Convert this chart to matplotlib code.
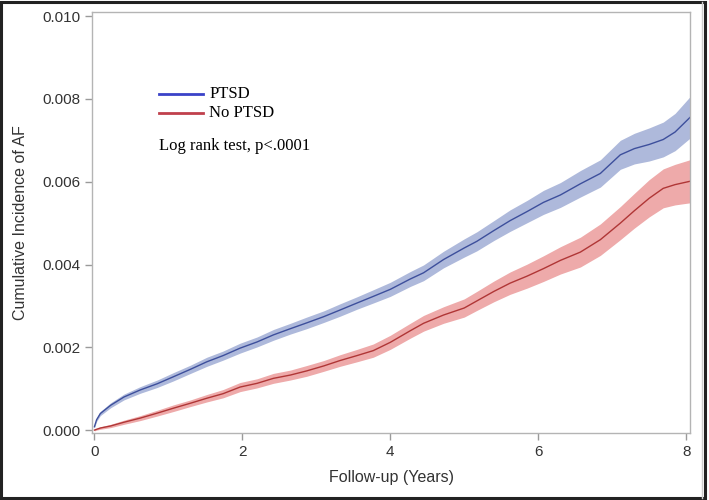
import matplotlib
matplotlib.use('Agg')
import matplotlib.pyplot as plt
import numpy as np
from matplotlib.patches import Rectangle

# values (years, cumulative incidence, half width of band)
years = [0, 0.03, 0.08, 0.22, 0.4, 0.62, 0.85, 1.07, 1.3, 1.52, 1.74, 1.97,
         2.2, 2.42, 2.65, 2.87, 3.1, 3.32, 3.55, 3.77, 4.0, 4.27, 4.45, 4.72,
         5.0, 5.17, 5.4, 5.62, 5.85, 6.07, 6.3, 6.57, 6.84, 7.11, 7.3, 7.5,
         7.69, 7.85, 8.05]
ptsd = [0.00008, 0.00025, 0.0004, 0.0006, 0.0008, 0.00097, 0.00112, 0.00129,
        0.00147, 0.00165, 0.0018, 0.00198, 0.00213, 0.0023, 0.00245, 0.00259,
        0.00274, 0.0029, 0.00307, 0.00323, 0.0034, 0.00365, 0.0038, 0.00412,
        0.0044, 0.00456, 0.00482, 0.00506, 0.00528, 0.0055, 0.00568, 0.00595,
        0.0062, 0.00665, 0.0068, 0.0069, 0.00702, 0.0072, 0.00755]
ptsd_ci = [0.00003, 0.00004, 0.00005, 0.00006, 0.00007, 0.00008, 0.00009,
           0.0001, 0.0001, 0.00011, 0.00011, 0.00012, 0.00012, 0.00013,
           0.00013, 0.00014, 0.00014, 0.00015, 0.00015, 0.00016, 0.00017,
           0.00018, 0.00019, 0.0002, 0.00022, 0.00023, 0.00024, 0.00026,
           0.00027, 0.00029, 0.0003, 0.00032, 0.00033, 0.00035, 0.00037,
           0.0004, 0.00042, 0.00045, 0.0005]
no_ptsd = [0.0, 0.00002, 0.00005, 0.0001, 0.00019, 0.00029, 0.00041, 0.00053,
           0.00065, 0.00077, 0.00088, 0.00104, 0.00113, 0.00125, 0.00133,
           0.00143, 0.00155, 0.00168, 0.0018, 0.00192, 0.00212, 0.0024,
           0.00258, 0.00278, 0.00295, 0.00312, 0.00335, 0.00355, 0.00372,
           0.0039, 0.0041, 0.0043, 0.0046, 0.0050, 0.0053, 0.0056, 0.00584,
           0.00593, 0.00601]
no_ptsd_ci = [0.00002, 0.00002, 0.00003, 0.00004, 0.00005, 0.00006, 0.00007,
              0.00008, 0.00008, 0.00009, 0.0001, 0.00011, 0.00011, 0.00012,
              0.00012, 0.00013, 0.00013, 0.00014, 0.00015, 0.00016, 0.00017,
              0.00018, 0.00019, 0.0002, 0.00022, 0.00023, 0.00025, 0.00027,
              0.00029, 0.00031, 0.00033, 0.00036, 0.00038, 0.0004, 0.00042,
              0.00045, 0.00047, 0.00049, 0.00052]

x_ticks = [0, 2, 4, 6, 8]
y_ticks = [0.000, 0.002, 0.004, 0.006, 0.008, 0.010]

sans = ['Liberation Sans Narrow', 'Liberation Sans', 'DejaVu Sans']
serif = ['Liberation Serif', 'DejaVu Serif']

fig = plt.figure(figsize=(7.09, 5.0), dpi=100)
ax = fig.add_axes([0.130, 0.134, 0.843, 0.842])

t = np.array(years)
b = np.array(ptsd)
bc = np.array(ptsd_ci)
r = np.array(no_ptsd)
rc = np.array(no_ptsd_ci)

ax.fill_between(t, b - bc, b + bc, color='#aeb9db', lw=0)
ax.fill_between(t, r - rc, r + rc, color='#eeaaaa', lw=0)
ax.plot(t, b, color='#3d4f9c', lw=1.0)
ax.plot(t, r, color='#b03636', lw=1.0)

ax.set_xlim(-0.03, 8.05)
ax.set_ylim(-0.00007, 0.0101)
ax.set_xticks(x_ticks)
ax.set_xticklabels([str(v) for v in x_ticks])
ax.set_yticks(y_ticks)
ax.set_yticklabels(['%.3f' % v for v in y_ticks])

for s in ax.spines.values():
    s.set_color('#b4b4b4')
    s.set_linewidth(1.0)
ax.tick_params(colors='#9a9a9a', labelcolor='#333333', length=5, width=1)
for lab in ax.get_xticklabels() + ax.get_yticklabels():
    lab.set_family(sans)
    lab.set_fontsize(11)

ax.set_xlabel('Follow-up (Years)', family=sans, fontsize=11.5, color='#333333', labelpad=8)
ax.set_ylabel('Cumulative Incidence of AF', family=sans, fontsize=11.5, color='#333333', labelpad=10)

# legend block drawn in axes coords
ax.plot([0.112, 0.186], [0.805, 0.805], transform=ax.transAxes, color='#3a42c8', lw=2)
ax.plot([0.112, 0.186], [0.760, 0.760], transform=ax.transAxes, color='#c0404c', lw=2)
ax.text(0.196, 0.805, 'PTSD', transform=ax.transAxes, va='center', family=serif, fontsize=12)
ax.text(0.196, 0.760, 'No PTSD', transform=ax.transAxes, va='center', family=serif, fontsize=12)
ax.text(0.112, 0.682, 'Log rank test, p<.0001', transform=ax.transAxes, va='center',
        family=serif, fontsize=12)

# outer frame of the picture
fig.patches.append(Rectangle((0.002, 0.004), 0.993, 0.993, transform=fig.transFigure,
                             fill=False, edgecolor='#222222', lw=2.2))
fig.lines.append(plt.Line2D([0.990, 0.990], [0.004, 0.997], transform=fig.transFigure,
                            color='#cccccc', lw=1))

fig.savefig('out.png', dpi=100)
